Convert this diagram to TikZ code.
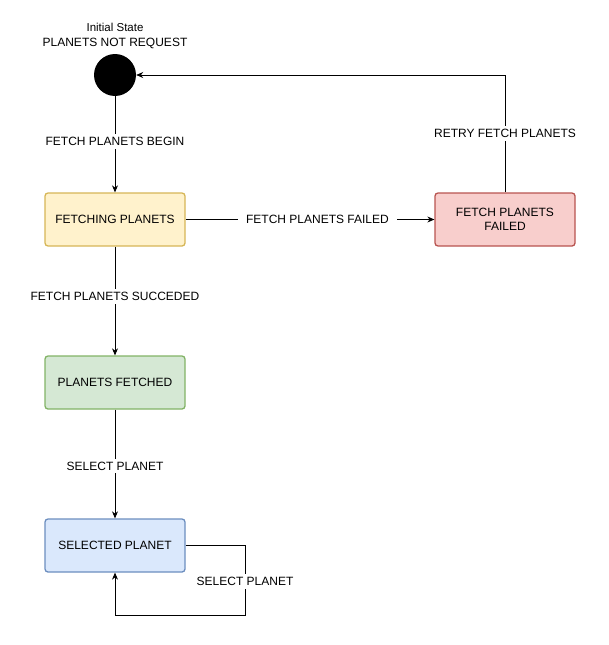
\documentclass[tikz,border=0pt]{standalone}
\usepackage{fontspec}
\setmainfont{Liberation Sans}
\usetikzlibrary{arrows.meta}
\definecolor{yfill}{HTML}{FFF2CC}\definecolor{ydraw}{HTML}{D6B656}
\definecolor{rfill}{HTML}{F8CECC}\definecolor{rdraw}{HTML}{B85450}
\definecolor{gfill}{HTML}{D5E8D4}\definecolor{gdraw}{HTML}{82B366}
\definecolor{bfill}{HTML}{DAE8FC}\definecolor{bdraw}{HTML}{6C8EBF}
\begin{document}
\begin{tikzpicture}[x=1pt,y=-1pt,
  font=\fontsize{12}{14}\selectfont,
  state/.style={rectangle,rounded corners=3pt,line width=1.3pt,minimum width=140pt,minimum height=53pt,align=center,inner sep=0pt},
  conn/.style={line width=0.8pt,-{Stealth[length=7pt,width=6pt]}},
  lbl/.style={fill=white,inner xsep=8pt,inner ysep=3pt}]
\useasboundingbox (0,0) rectangle (608,645);
\node[circle,fill=black,minimum size=42pt,inner sep=0pt] (init) at (115,75) {};
\node[align=center,font=\fontsize{12}{15}\selectfont] (initlbl) at (115,36) {{\fontsize{11.5}{13}\selectfont Initial State}\\PLANETS NOT REQUEST};
\node[state,fill=yfill,draw=ydraw] (fetching) at (115,219.5) {FETCHING PLANETS};
\node[state,fill=rfill,draw=rdraw] (failed) at (505,219.5) {FETCH PLANETS\\FAILED};
\node[state,fill=gfill,draw=gdraw] (fetched) at (115,382.5) {PLANETS FETCHED};
\node[state,fill=bfill,draw=bdraw] (selected) at (115,545.5) {SELECTED PLANET};
\coordinate (rc) at (505,75);
\coordinate (l1) at (245,545.5);
\coordinate (l2) at (245,615);
\coordinate (l3) at (115,615);
\draw[conn] (init) -- node[lbl,pos=0.47] {FETCH PLANETS BEGIN} (fetching);
\draw[conn] (fetching) -- node[lbl,pos=0.53] {FETCH PLANETS FAILED} (failed);
\draw[conn] (failed.north) -- node[lbl,pos=0.5] {RETRY FETCH PLANETS} (rc) -- (init.east);
\draw[conn] (fetching) -- node[lbl,pos=0.46] {FETCH PLANETS SUCCEDED} (fetched);
\draw[conn] (fetched) -- node[lbl,pos=0.52] {SELECT PLANET} (selected);
\draw[conn] (selected.east) -- (l1) -- node[lbl,pos=0.52] {SELECT PLANET} (l2) -- (l3) -- (selected.south);
\end{tikzpicture}
\end{document}
